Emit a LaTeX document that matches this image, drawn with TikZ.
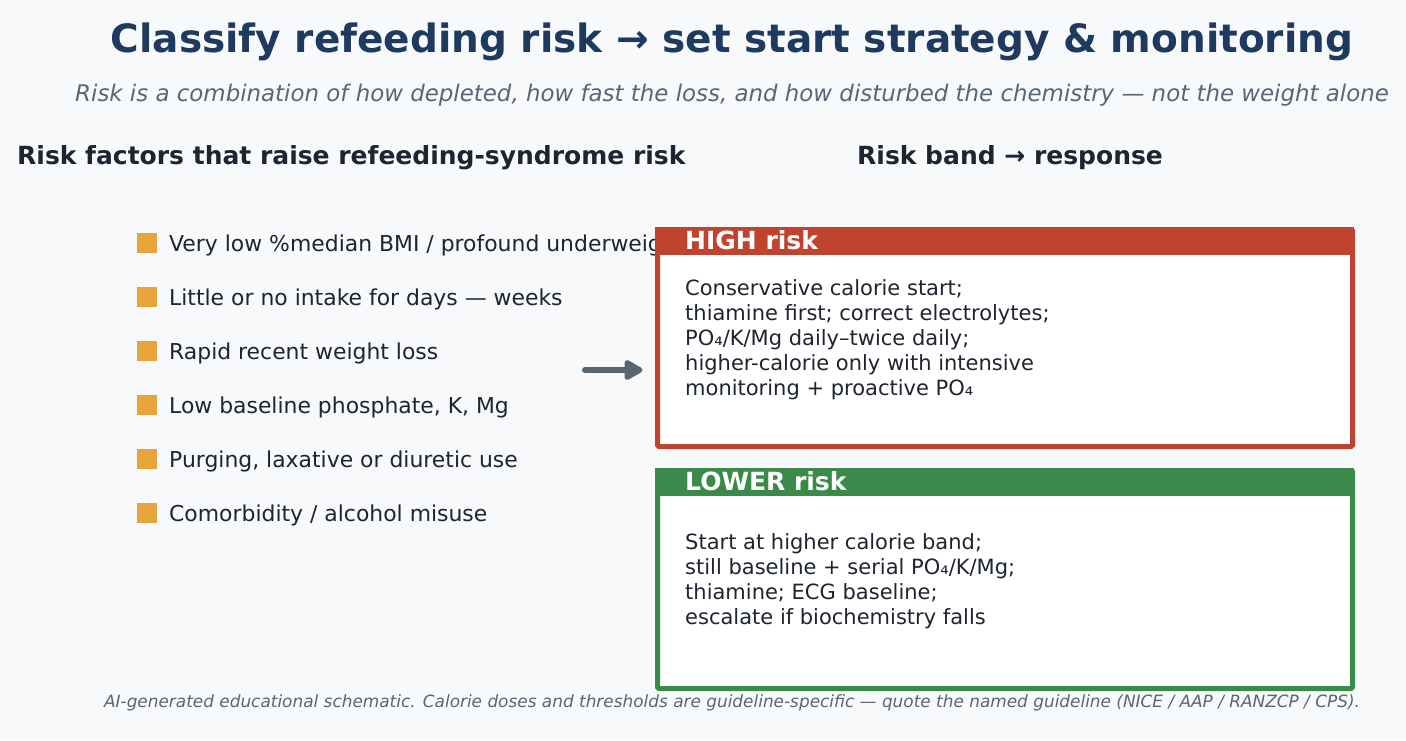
\documentclass[tikz,border=0pt]{standalone}
\usepackage{fontspec}
\setmainfont{DejaVu Sans}
\usetikzlibrary{arrows.meta}
\definecolor{bgc}{HTML}{F7F9FB}
\definecolor{navy}{HTML}{1F3A5F}
\definecolor{subg}{HTML}{5A6672}
\definecolor{ink}{HTML}{1E2530}
\definecolor{bul}{HTML}{E8A43C}
\definecolor{arr}{HTML}{59656F}
\definecolor{hired}{HTML}{C0432F}
\definecolor{logreen}{HTML}{3A8A4A}
\tikzset{
  title/.style={font=\fontsize{39}{44}\selectfont\bfseries, text=navy, inner sep=0, anchor=base},
  subt/.style={font=\fontsize{22.9}{26}\selectfont\itshape, text=subg, inner sep=0, anchor=base},
  head/.style={font=\fontsize{25}{28}\selectfont\bfseries, text=ink, inner sep=0, anchor=base west},
  bultext/.style={font=\fontsize{21.9}{25}\selectfont, text=ink, inner sep=0, anchor=base west},
  bulsq/.style={fill=bul, minimum size=20pt, inner sep=0, draw=none},
  bandtitle/.style={font=\fontsize{25}{28}\selectfont\bfseries, text=white, inner sep=0, anchor=base west},
  body/.style={font=\fontsize{21}{25}\selectfont, text=ink, inner sep=0, anchor=north west, align=left},
  foot/.style={font=\fontsize{16.9}{20}\selectfont\itshape, text=subg, inner sep=0, anchor=base},
  band/.style={line width=5pt, fill=white, rounded corners=1.5pt, minimum width=695pt, inner sep=0, outer sep=0, anchor=north west},
}
\begin{document}
\begin{tikzpicture}[x=1pt,y=-1pt]
\fill[bgc] (0,0) rectangle (1406,740);
\useasboundingbox (0,0) rectangle (1406,740);
\node[title] (t) at (732,52) {Classify refeeding risk → set start strategy \& monitoring};
\node[subt] (st) at (732,101) {Risk is a combination of how depleted, how fast the loss, and how disturbed the chemistry — not the weight alone};
\node[head] (h1) at (17,164) {Risk factors that raise refeeding-syndrome risk};
\node[head] (h2) at (857,164) {Risk band → response};
\foreach \i/\y/\t in {1/243/{Very low \%median BMI / profound underweight},
                      2/297/{Little or no intake for days — weeks},
                      3/351/{Rapid recent weight loss},
                      4/405/{Low baseline phosphate, K, Mg},
                      5/459/{Purging, laxative or diuretic use},
                      6/513/{Comorbidity / alcohol misuse}}{
  \node[bulsq] (b\i) at (147,\y) {};
  \node[bultext] (bt\i) at (169,\y+8) {\t};
}
% HIGH box
\node[band, draw=hired, minimum height=217pt] (high) at (657.5,229.5) {};
\fill[hired] (655,227) rectangle (1354,255);
\node[bandtitle] (hight) at (685,249) {HIGH risk};
\node[body] (highb) at (685,279) {Conservative calorie start;\\thiamine first; correct electrolytes;\\PO₄/K/Mg daily–twice daily;\\higher-calorie only with intensive\\monitoring + proactive PO₄};
% LOWER box
\node[band, draw=logreen, minimum height=218pt] (low) at (657.5,470.5) {};
\fill[logreen] (655,468) rectangle (1354,496);
\node[bandtitle] (lowt) at (685,490) {LOWER risk};
\node[body] (lowb) at (685,533) {Start at higher calorie band;\\still baseline + serial PO₄/K/Mg;\\thiamine; ECG baseline;\\escalate if biochemistry falls};
% arrow
\coordinate (as) at (585,370);
\draw[arr, line width=6pt, line cap=round, shorten >=15pt, -{Triangle[length=21pt,width=22pt,round]}] (as) -- (high.west |- as);
\node[foot] (ft) at (732,707) {AI-generated educational schematic. Calorie doses and thresholds are guideline-specific — quote the named guideline (NICE / AAP / RANZCP / CPS).};
\end{tikzpicture}
\end{document}
